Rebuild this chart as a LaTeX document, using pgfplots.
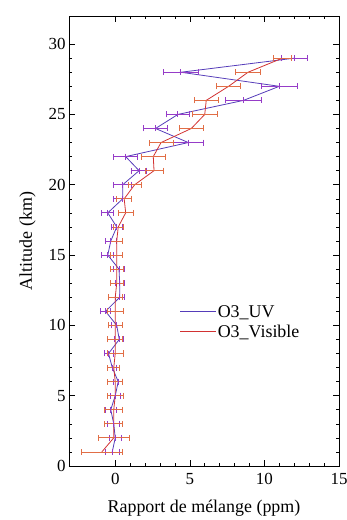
\documentclass[border=0pt]{standalone}
\usepackage{fontspec}
\setmainfont{Liberation Serif}
\usepackage{pgfplots}
\usepackage{pgfplotstable}
\pgfplotsset{compat=1.18}
\usetikzlibrary{calc}
\definecolor{uvline}{RGB}{85,60,185}
\definecolor{uvbar}{RGB}{150,60,200}
\definecolor{visline}{RGB}{210,50,50}
\definecolor{visbar}{RGB}{225,110,70}
\pgfplotstableread{
alt uv uverr vis viserr
1 -0.2 0.45 -0.9 1.4
2 0.0 0.4 -0.1 1.05
3 -0.1 0.4 -0.1 0.6
4 -0.3 0.35 -0.1 0.6
5 0.0 0.35 0.0 0.55
6 0.2 0.3 0.0 0.5
7 -0.2 0.3 -0.1 0.4
8 -0.45 0.3 0.0 0.55
9 0.27 0.3 0.0 0.5
10 0.1 0.35 0.0 0.45
11 -0.65 0.35 0.0 0.55
12 0.3 0.3 0.0 0.45
13 0.3 0.3 0.1 0.45
14 0.25 0.35 0.1 0.45
15 -0.5 0.4 0.1 0.4
16 -0.3 0.35 0.1 0.4
17 0.1 0.35 0.2 0.35
18 -0.5 0.4 0.7 0.5
19 0.5 0.6 0.6 0.5
20 0.5 0.6 1.3 0.45
21 1.6 0.5 2.6 0.6
22 0.7 0.8 2.55 0.8
23 4.9 1.0 3.07 0.8
24 2.7 0.8 5.1 0.8
25 4.2 0.8 6.0 0.85
26 8.6 1.2 6.1 0.8
27 11.0 1.2 7.6 0.8
28 4.4 1.2 8.9 0.85
29 12.0 0.85 11.2 0.6
}\data
\begin{document}
\begin{tikzpicture}
\begin{axis}[
  name=ax,
  scale only axis,
  width=270bp, height=450bp,
  xmin=-3.1, xmax=15, ymin=0, ymax=32,
  xtick={0,5,10,15}, ytick={0,5,10,15,20,25,30},
  minor x tick num=4, minor y tick num=4,
  tick align=inside,
  major tick length=6bp, minor tick length=3bp,
  tick style={black, line width=0.6pt},
  axis line style={black, line width=0.8pt},
  /pgf/number format/assume math mode=true,
  ticklabel style={font=\fontsize{17}{20}\selectfont},
  xticklabel style={yshift=-4bp},
  xlabel={Rapport de mélange (ppm)},
  ylabel={Altitude (km)},
  label style={font=\fontsize{18}{21}\selectfont},
  xlabel style={yshift=-8bp},
  ylabel shift=6bp,
  legend style={draw=none, fill=none, at={(rel axis cs:0.41,0.36)}, anchor=north west,
    font=\fontsize{18}{20}\selectfont, row sep=4bp, inner sep=0bp,
    nodes={inner sep=1bp}},
  legend cell align=left,
]
\addlegendimage{legend image code/.code={\draw[draw=uvline, line width=0.9pt] (0bp,0bp) -- (36bp,0bp);}}
\addlegendentry{O3\_UV}
\addlegendimage{legend image code/.code={\draw[draw=visline, line width=0.9pt] (0bp,0bp) -- (36bp,0bp);}}
\addlegendentry{O3\_Visible}
\addplot[forget plot, color=uvline, line width=0.8pt, mark=|, mark size=3bp,
  mark options={uvbar, line width=0.8pt},
  error bars/.cd, x dir=both, x explicit,
  error bar style={uvbar, line width=0.8pt},
  error mark options={uvbar, mark size=3bp, line width=0.8pt, rotate=90}]
  table[x=uv, y=alt, x error=uverr] {\data};
\addplot[forget plot, color=visline, line width=0.8pt, mark=none,
  error bars/.cd, x dir=both, x explicit,
  error bar style={visbar, line width=0.8pt},
  error mark options={visbar, mark size=3bp, line width=0.8pt, rotate=90}]
  table[x=vis, y=alt, x error=viserr] {\data};
\end{axis}
\pgfresetboundingbox
\path[use as bounding box] ($(ax.south west)+(-69bp,-54bp)$) rectangle ($(ax.north east)+(8bp,16bp)$);
\end{tikzpicture}
\end{document}
